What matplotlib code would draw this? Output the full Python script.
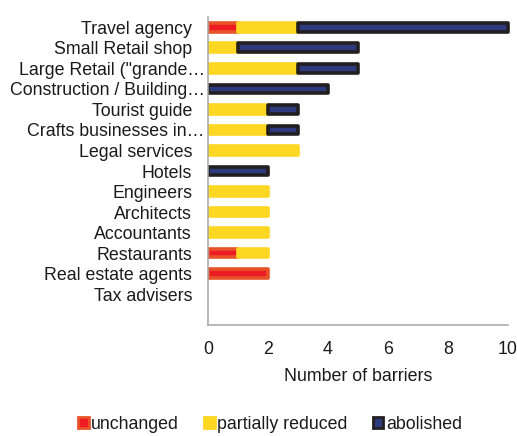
import matplotlib
matplotlib.use("Agg")
import matplotlib.pyplot as plt
import matplotlib.patches as mpatches
from matplotlib.transforms import ScaledTranslation
import numpy as np

plt.rcParams['font.family'] = ['Liberation Sans', 'DejaVu Sans']

# barriers per profession, top to bottom
categories = ["Travel agency", "Small Retail shop", 'Large Retail ("grande\u2026',
              "Construction / Building\u2026", "Tourist guide", "Crafts businesses in\u2026",
              "Legal services", "Hotels", "Engineers", "Architects", "Accountants",
              "Restaurants", "Real estate agents", "Tax advisers"]
unchanged = [1, 0, 0, 0, 0, 0, 0, 0, 0, 0, 0, 1, 2, 0]
partially_reduced = [2, 1, 3, 0, 2, 2, 3, 0, 2, 2, 2, 1, 0, 0]
abolished = [7, 4, 2, 4, 1, 1, 0, 2, 0, 0, 0, 0, 0, 0]
x_ticks = [0, 2, 4, 6, 8, 10]

series = [
    ("unchanged", unchanged, "#ED1C24", "#E8532A"),
    ("partially reduced", partially_reduced, "#FED722", "#FED722"),
    ("abolished", abolished, "#2E3A7E", "#231F20"),
]

text_color = "#1A1A1A"
fs = 12.8

fig = plt.figure(figsize=(5.17, 4.36), dpi=100)
ax = fig.add_axes([208 / 517, 1 - 325 / 436, 300 / 517, 308 / 436])

# clip bars at the y axis only, let the rounded end at x=10 show
clip_rect = mpatches.Rectangle((0, -0.1), 1.1, 1.2, transform=ax.transAxes,
                               visible=False)
ax.add_patch(clip_rect)

y = np.arange(len(categories))[::-1]
left = np.zeros(len(categories))
handles = []
for name, vals, fill, edge in series:
    vals = np.array(vals, dtype=float)
    mask = vals > 0
    bars = ax.barh(y[mask], vals[mask], left=left[mask], height=0.42, color=fill,
                   edgecolor=edge, linewidth=2.6, joinstyle="round", zorder=2)
    for b in bars:
        b.set_clip_path(clip_rect)
    left += vals
    handles.append(mpatches.Rectangle((0, 0), 1, 1, facecolor=fill, edgecolor=edge,
                                      linewidth=2.0, joinstyle="round"))

ax.set_xlim(0, 10)
ax.set_ylim(-1.5, len(categories) - 0.5)
ax.set_xticks(x_ticks)
ax.set_xticklabels([str(t) for t in x_ticks], fontsize=fs, color=text_color)
ax.set_yticks(y)
ax.set_yticklabels(categories, fontsize=fs, color=text_color)
ax.tick_params(axis="y", length=0, pad=11.5)
ax.tick_params(axis="x", length=0, pad=11.5)

# truncated names sit a little closer to the axis
for lbl in ax.get_yticklabels():
    if lbl.get_text().endswith("\u2026"):
        lbl.set_transform(lbl.get_transform() + ScaledTranslation(9 / 72, 0, fig.dpi_scale_trans))

for side in ["top", "right"]:
    ax.spines[side].set_visible(False)
for side in ["left", "bottom"]:
    ax.spines[side].set_color("#A6A6A6")
    ax.spines[side].set_linewidth(1.1)
    ax.spines[side].set_zorder(3)

ax.set_xlabel("Number of barriers", fontsize=fs, color=text_color, labelpad=7)

fig.legend(handles, [s[0] for s in series], loc="upper center",
           bbox_to_anchor=(0.522, 1 - 416 / 436), ncol=3, frameon=False,
           fontsize=fs, handlelength=0.6, handleheight=0.6, handletextpad=0.15,
           columnspacing=1.4, borderpad=0, borderaxespad=0, labelcolor=text_color)

fig.savefig("out.png", dpi=100)
